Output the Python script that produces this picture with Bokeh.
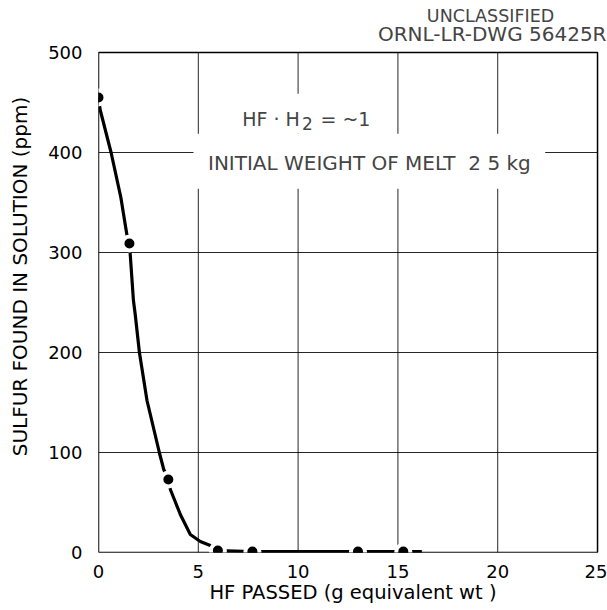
from bokeh.plotting import figure
from bokeh.models import Range1d, FixedTicker, Label
from bokeh.embed import file_html
from bokeh.resources import INLINE

# ---- data ----
hf_points = [0.0, 1.55, 3.5, 5.98, 7.71, 13.0, 15.27]
sulfur_points = [455, 309, 73, 2, 1, 1, 1]

curve_hf = [0.0, 0.08, 0.63, 1.12, 1.42, 1.55, 1.59, 1.75, 1.84, 2.05, 2.43, 3.06, 3.27, 3.5,
            3.6, 4.1, 4.6, 5.1, 5.6, 5.98, 7.71, 13.0, 15.27, 16.2]
curve_sulfur = [455, 443, 400, 355, 318, 309, 298, 252, 238, 200, 152, 99, 83, 73,
                63, 38, 18, 11, 7, 2, 1, 1, 1, 1]

x_ticks = [0, 5, 10, 15, 20, 25]
y_ticks = [0, 100, 200, 300, 400, 500]

FONT = "DejaVu Sans"

# the frame is extended above 500 and right of 25 so that the header stamp can sit inside it
p = figure(width=607, height=610, x_range=Range1d(0, 25.5), y_range=Range1d(0, 552),
           output_backend="svg", toolbar_location=None, title=None,
           min_border_left=98, min_border_right=0, min_border_top=0, min_border_bottom=58,
           background_fill_color="white", border_fill_color="white")

p.outline_line_color = None
p.xgrid.visible = False
p.ygrid.visible = False

for ax, ticks in ((p.xaxis, x_ticks), (p.yaxis, y_ticks)):
    ax.ticker = FixedTicker(ticks=ticks)
    ax.major_tick_line_color = None
    ax.minor_tick_line_color = None
    ax.axis_line_color = None
    ax.major_label_text_font = FONT
    ax.major_label_text_font_size = "18px"
    ax.major_label_text_color = "black"
    ax.major_label_standoff = 10
    ax.axis_label_text_font = FONT
    ax.axis_label_text_font_style = "normal"
    ax.axis_label_text_color = "black"

p.xaxis.major_label_standoff = 6
p.xaxis.axis_label = "HF PASSED (g equivalent wt )"
p.xaxis.axis_label_text_font_size = "19.5px"
p.xaxis.axis_label_standoff = 0

p.yaxis.axis_label = "SULFUR FOUND IN SOLUTION (ppm)"
p.yaxis.axis_label_text_font_size = "20px"
p.yaxis.axis_label_standoff = 13

nx, ny = len(x_ticks), len(y_ticks)
# grid lines built from the tick lists
p.segment(x0=x_ticks, y0=[y_ticks[0]] * nx, x1=x_ticks, y1=[y_ticks[-1]] * nx,
          line_color="black", line_width=1, line_alpha=0.85)
p.segment(x0=[x_ticks[0]] * ny, y0=y_ticks, x1=[x_ticks[-1]] * ny, y1=y_ticks,
          line_color="black", line_width=1, line_alpha=0.85)

# white paste-up boxes behind the annotations
p.quad(left=[5.36, 4.76], right=[14.7, 22.38], bottom=[418.7, 363.7], top=[458.7, 418.7],
       fill_color="white", line_color=None)

# plot frame
p.quad(left=[x_ticks[0]], right=[x_ticks[-1]], bottom=[y_ticks[0]], top=[y_ticks[-1]],
       fill_alpha=0, line_color="black", line_width=1.5)

# fitted curve and data points
p.line(curve_hf, curve_sulfur, line_color="black", line_width=3.2)
p.scatter(hf_points, sulfur_points, size=14, fill_color="black",
          line_color="white", line_width=4)

# annotations
p.add_layout(Label(x=7.2, y=434, text="HF · H", text_font=FONT,
                   text_font_size="19px", text_align="left", text_baseline="middle"))
p.add_layout(Label(x=10.19, y=428.7, text="2", text_font=FONT,
                   text_font_size="17px", text_align="left", text_baseline="middle"))
p.add_layout(Label(x=11.12, y=434, text="= ~1", text_font=FONT,
                   text_font_size="19px", text_align="left", text_baseline="middle"))
p.add_layout(Label(x=13.57, y=390, text="INITIAL WEIGHT OF MELT\u00a0\u00a02 5 kg", text_font=FONT,
                   text_font_size="20px", text_align="center", text_baseline="middle"))

# header stamp
p.add_layout(Label(x=19.64, y=537, text="UNCLASSIFIED", text_font=FONT,
                   text_font_size="17.5px", text_align="center", text_baseline="middle"))
p.add_layout(Label(x=25.45, y=519, text="ORNL-LR-DWG 56425R", text_font=FONT,
                   text_font_size="20px", text_align="right", text_baseline="middle"))

open("out.html", "w").write(file_html(p, INLINE))
